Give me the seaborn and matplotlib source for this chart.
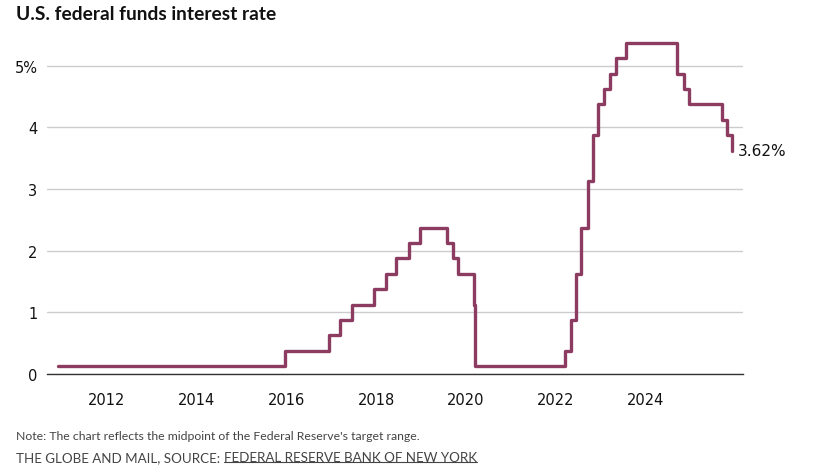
import seaborn as sns
import matplotlib.pyplot as plt
import matplotlib.dates as mdates
import pandas as pd

# Midpoint of the Fed target range, at each change date
change_dates = [
    "2010-12-01", "2015-12-17", "2016-12-15", "2017-03-16", "2017-06-15",
    "2017-12-14", "2018-03-22", "2018-06-14", "2018-09-27", "2018-12-20",
    "2019-08-01", "2019-09-19", "2019-10-31", "2020-03-04", "2020-03-16",
    "2022-03-17", "2022-05-05", "2022-06-16", "2022-07-28", "2022-09-22",
    "2022-11-03", "2022-12-15", "2023-02-02", "2023-03-23", "2023-05-04",
    "2023-07-27", "2024-09-19", "2024-11-08", "2024-12-19", "2025-09-18",
    "2025-10-30", "2025-12-11",
]
rates = [
    0.125, 0.375, 0.625, 0.875, 1.125,
    1.375, 1.625, 1.875, 2.125, 2.375,
    2.125, 1.875, 1.625, 1.125, 0.125,
    0.375, 0.875, 1.625, 2.375, 3.125,
    3.875, 4.375, 4.625, 4.875, 5.125,
    5.375, 4.875, 4.625, 4.375, 4.125,
    3.875, 3.625,
]
y_ticks = [0, 1, 2, 3, 4, 5]
y_tick_labels = ["0", "1", "2", "3", "4", "5%"]
x_years = [2012, 2014, 2016, 2018, 2020, 2022, 2024]
last_label = "3.62%"

df = pd.DataFrame({"date": pd.to_datetime(change_dates), "rate": rates})

sns.set_style("white")
plt.rcParams["font.family"] = ["DejaVu Sans"]

fig = plt.figure(figsize=(8.14, 4.77), dpi=100)
ax = fig.add_axes([0.058, 0.2138, 0.855, 0.7107])

line_color = "#8c3b61"
sns.lineplot(data=df, x="date", y="rate", ax=ax, color=line_color,
             linewidth=2.4, drawstyle="steps-post")

ax.set_xlim(pd.Timestamp("2010-09-01"), pd.Timestamp("2026-03-08"))
ax.set_ylim(0, 5.5)
ax.set_yticks(y_ticks)
ax.set_yticklabels(y_tick_labels)
ax.set_xticks([pd.Timestamp(f"{y}-01-01") for y in x_years])
ax.xaxis.set_major_formatter(mdates.DateFormatter("%Y"))

ax.grid(axis="y", color="#cccccc", linewidth=1)
ax.grid(axis="x", visible=False)
for side in ["top", "right", "left"]:
    ax.spines[side].set_visible(False)
ax.spines["bottom"].set_color("#333333")
ax.spines["bottom"].set_linewidth(1)
ax.tick_params(axis="x", length=5, width=1, color="#333333", pad=8,
               labelsize=10.5, labelcolor="#111111")
ax.tick_params(axis="y", length=0, pad=7, labelsize=10.5, labelcolor="#111111")
ax.set_xlabel("")
ax.set_ylabel("")

ax.annotate(last_label, xy=(df["date"].iloc[-1], df["rate"].iloc[-1]),
            xytext=(4, 0), textcoords="offset points", ha="left", va="center",
            fontsize=11, color="#111111")

fig.text(0.02, 0.97, "U.S. federal funds interest rate", fontsize=13.8,
         fontweight="bold", color="#111111", va="center", ha="left",
         family=["Lato", "DejaVu Sans"])
fig.text(0.02, 0.084, "Note: The chart reflects the midpoint of the Federal Reserve's target range.",
         fontsize=8.8, color="#444444", va="center", ha="left",
         family=["Lato", "DejaVu Sans"])
src1 = fig.text(0.02, 0.04, "THE GLOBE AND MAIL, SOURCE: ", fontsize=9.6,
                color="#444444", va="center", ha="left",
                family=["Lato", "DejaVu Sans"])
fig.canvas.draw()
bb = src1.get_window_extent().transformed(fig.transFigure.inverted())
src2 = fig.text(bb.x1, 0.04, "FEDERAL RESERVE BANK OF NEW YORK", fontsize=9.6,
                color="#444444", va="center", ha="left",
                family=["Lato", "DejaVu Sans"])
fig.canvas.draw()
bb2 = src2.get_window_extent().transformed(fig.transFigure.inverted())
fig.add_artist(plt.Line2D([bb2.x0, bb2.x1], [bb2.y0 + 0.002, bb2.y0 + 0.002],
                          color="#444444", linewidth=0.8, transform=fig.transFigure))

fig.savefig("out.png", dpi=100)
